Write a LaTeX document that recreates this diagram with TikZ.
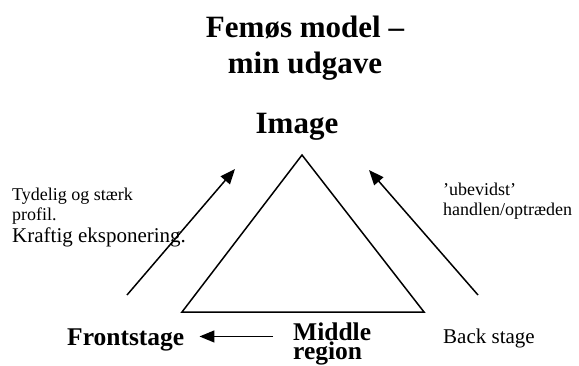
\documentclass[tikz,border=0pt]{standalone}
\usepackage{fontspec}
\setmainfont{Liberation Serif}
\usetikzlibrary{positioning,arrows.meta,calc}

\begin{document}
\begin{tikzpicture}[x=1pt, y=-1pt,
    txt/.style={inner sep=0pt, align=left, font=\fontsize{18}{20}\selectfont},
    headtxt/.style={inner sep=0pt, align=center, font=\bfseries\fontsize{31}{36}\selectfont},
    stagetxt/.style={inner sep=0pt, align=left, font=\bfseries\fontsize{25.5}{17}\selectfont},
    arrow/.style={-{Triangle[length=15pt, width=12pt]}, line width=1.5pt}
]
\useasboundingbox (0,0) rectangle (579,365);

% heading (base = last line)
\node[headtxt, anchor=base] (title) at (305,73) {Femøs model --\\min udgave};
\node[headtxt, anchor=base] (image) at (297,133) {Image};

% the triangle
\coordinate (apex) at (302,155);
\coordinate (baseL) at (182,312);
\coordinate (baseR) at (424,312);
\draw[line width=1.5pt, line join=miter] (apex) -- (baseL) -- (baseR) -- cycle;

% side texts
\node[txt, anchor=base west] (front-txt) at (12,242)
    {Tydelig og stærk\\profil.\\[2pt]{\fontsize{21}{25}\selectfont Kraftig eksponering.}};
\node[txt, anchor=base west] (back-txt) at (443,215) {’ubevidst’\\handlen/optræden};

% stages
\node[stagetxt, anchor=base west] (front) at (67,345) {Frontstage};
\node[stagetxt, anchor=base west] (middle) at (293,359) {Middle\\region};
\node[txt, anchor=base west, font=\fontsize{21}{25}\selectfont] (back) at (443,343) {Back stage};

% arrows
\coordinate (leftTail) at (127,295);
\coordinate (leftTip) at (235,169);
\coordinate (rightTail) at (478,295);
\coordinate (rightTip) at (369,170);
\draw[arrow] (leftTail) -- (leftTip);
\draw[arrow] (rightTail) -- (rightTip);
\coordinate (frontR) at ($(front.east)+(0,-3)$);
\draw[arrow, shorten <=20pt, shorten >=15pt] (frontR -| middle.west) -- (frontR);
\end{tikzpicture}
\end{document}
